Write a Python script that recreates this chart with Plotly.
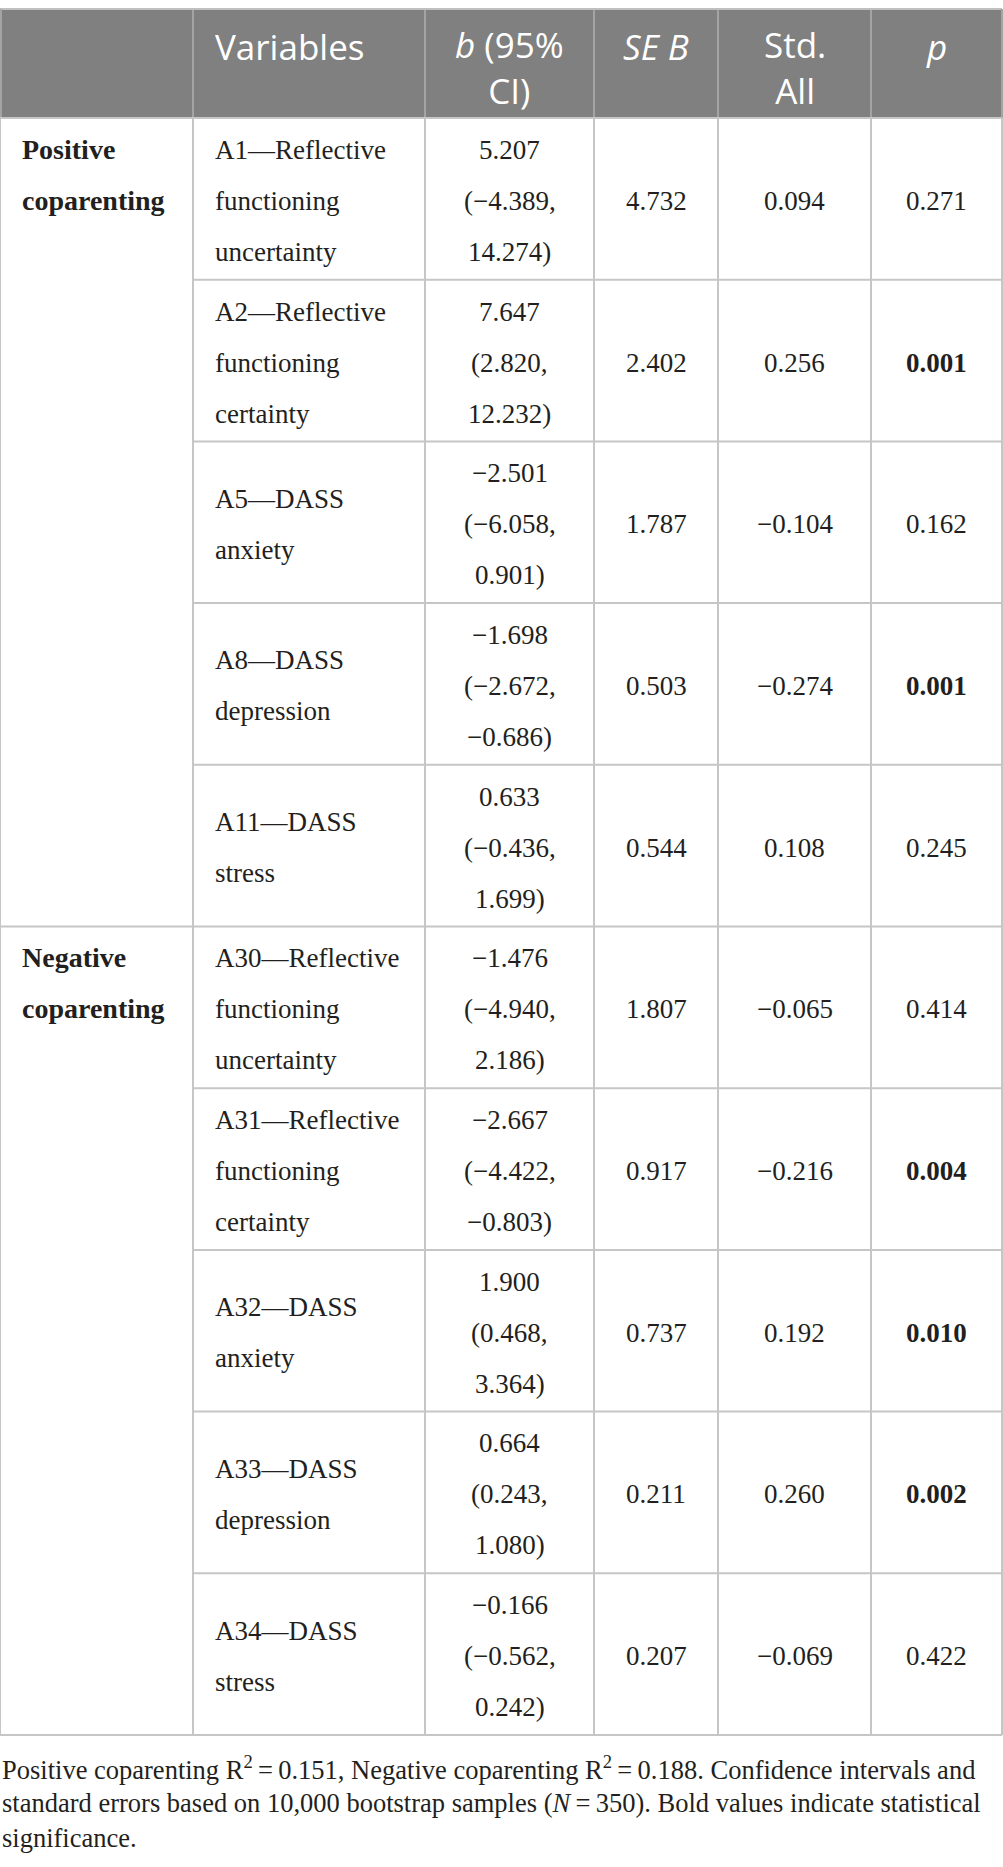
import textwrap
import plotly.graph_objects as go

# ---- table contents ----
groups = ["Positive coparenting", "Negative coparenting"]
group_sizes = [5, 5]
variables = [
    "A1—Reflective functioning uncertainty",
    "A2—Reflective functioning certainty",
    "A5—DASS anxiety",
    "A8—DASS depression",
    "A11—DASS stress",
    "A30—Reflective functioning uncertainty",
    "A31—Reflective functioning certainty",
    "A32—DASS anxiety",
    "A33—DASS depression",
    "A34—DASS stress",
]
b_est = [5.207, 7.647, -2.501, -1.698, 0.633, -1.476, -2.667, 1.900, 0.664, -0.166]
ci_low = [-4.389, 2.820, -6.058, -2.672, -0.436, -4.940, -4.422, 0.468, 0.243, -0.562]
ci_high = [14.274, 12.232, 0.901, -0.686, 1.699, 2.186, -0.803, 3.364, 1.080, 0.242]
se_b = [4.732, 2.402, 1.787, 0.503, 0.544, 1.807, 0.917, 0.737, 0.211, 0.207]
std_all = [0.094, 0.256, -0.104, -0.274, 0.108, -0.065, -0.216, 0.192, 0.260, -0.069]
p_vals = [0.271, 0.001, 0.162, 0.001, 0.245, 0.414, 0.004, 0.010, 0.002, 0.422]
headers = [[], ["Variables"], ["<i>b</i> (95%", "CI)"], ["<i>SE B</i>"],
           ["Std.", "All"], ["<i>p</i>"]]
note_lines = [
    "Positive coparenting R<sup>2</sup>\u2009=\u20090.151, Negative coparenting "
    "R<sup>2</sup>\u2009=\u20090.188. Confidence intervals and",
    "standard errors based on 10,000 bootstrap samples (<i>N</i>\u2009=\u2009350). "
    "Bold values indicate statistical",
    "significance.",
]

# ---- layout (pixels) ----
W, H = 1003, 1867
COL_X = [0, 193, 425, 594, 718, 871, 1002]
HEAD_TOP, HEAD_BOT = 9, 118
ROW_H = 161.7
LINE_H = 51
HEAD_BG = "#808080"
GRID = "#c6c6c6"
INK = "#231f20"
SERIF = "Liberation Serif"
SANS = "Open Sans"
BODY_SIZE = 27


def fmt(v):
    return f"{v:.3f}".replace("-", "\u2212")


fig = go.Figure()
annots = []
shapes = []


def text(x, y, s, anchor="center", size=BODY_SIZE, family=SERIF, color=INK):
    annots.append(dict(x=x, y=y, xref="x", yref="y", text=s, showarrow=False,
                       xanchor=anchor, yanchor="middle",
                       font=dict(family=family, size=size, color=color)))


def line(x0, y0, x1, y1, color=GRID, width=2):
    shapes.append(dict(type="line", xref="x", yref="y", x0=x0, y0=y0, x1=x1, y1=y1,
                       line=dict(color=color, width=width), layer="above"))


# header
shapes.append(dict(type="rect", xref="x", yref="y", x0=COL_X[0], x1=COL_X[-1],
                   y0=HEAD_TOP, y1=HEAD_BOT, fillcolor=HEAD_BG, line=dict(width=0),
                   layer="below"))
for c, hd in enumerate(headers):
    if not hd:
        continue
    y = 46 + (len(hd) - 1) * 21.5
    s = "<br>".join(hd)
    if c == 1:
        text(COL_X[c] + 20, y, s, "left", 35, SANS, "white")
    else:
        text((COL_X[c] + COL_X[c + 1]) / 2, y, s, "center", 35, SANS, "white")

n_rows = len(variables)
row_top = [HEAD_BOT + r * ROW_H for r in range(n_rows + 1)]

# group labels (top aligned, merged over their rows)
start = 0
for g, size in zip(groups, group_sizes):
    top = row_top[start]
    for i, s in enumerate(g.split(" ")):
        text(COL_X[0] + 20, top + 31 + i * LINE_H, f"<b>{s}</b>", "left", 28)
    start += size

# body cells (vertically centred)
for r in range(n_rows):
    mid = row_top[r] + ROW_H / 2 + 2
    cells = [
        (1, textwrap.wrap(variables[r], 14)),
        (2, [fmt(b_est[r]), f"({fmt(ci_low[r])},", f"{fmt(ci_high[r])})"]),
        (3, [fmt(se_b[r])]),
        (4, [fmt(std_all[r])]),
        (5, [f"<b>{fmt(p_vals[r])}</b>" if p_vals[r] < 0.05 else fmt(p_vals[r])]),
    ]
    for c, lines in cells:
        n = len(lines)
        for i, s in enumerate(lines):
            y = mid + (i - (n - 1) / 2) * LINE_H
            if c == 1:
                text(COL_X[c] + 20, y, s, "left")
            else:
                text((COL_X[c] + COL_X[c + 1]) / 2, y, s)

# grid
for c in range(1, len(COL_X) - 1):
    line(COL_X[c], HEAD_TOP, COL_X[c], HEAD_BOT, "#a4a4a4")
line(COL_X[0], HEAD_TOP, COL_X[-1], HEAD_TOP, "#c0c0c0")
for x in COL_X:
    line(x, HEAD_BOT, x, row_top[-1])
line(COL_X[0] + 1, HEAD_TOP, COL_X[0] + 1, HEAD_BOT, "#a4a4a4")
line(COL_X[-1], HEAD_TOP, COL_X[-1], HEAD_BOT, "#a4a4a4")
group_ends = {0}
acc = 0
for size in group_sizes:
    acc += size
    group_ends.add(acc)
for r in range(n_rows + 1):
    x0 = COL_X[0] if r in group_ends else COL_X[1]
    line(x0, row_top[r], COL_X[-1], row_top[r])

# footnote
for i, s in enumerate(note_lines):
    text(0, row_top[-1] + 33 + i * 35, s, "left", 26.5)

fig.update_layout(
    width=W, height=H, margin=dict(l=0, r=0, t=0, b=0),
    paper_bgcolor="white", plot_bgcolor="white",
    xaxis=dict(range=[0, W], visible=False, fixedrange=True),
    yaxis=dict(range=[H, 0], visible=False, fixedrange=True),
    annotations=annots, shapes=shapes, showlegend=False,
)
fig.write_html("out.html", config={"displayModeBar": False},
               post_script="document.body.style.margin='0';")
